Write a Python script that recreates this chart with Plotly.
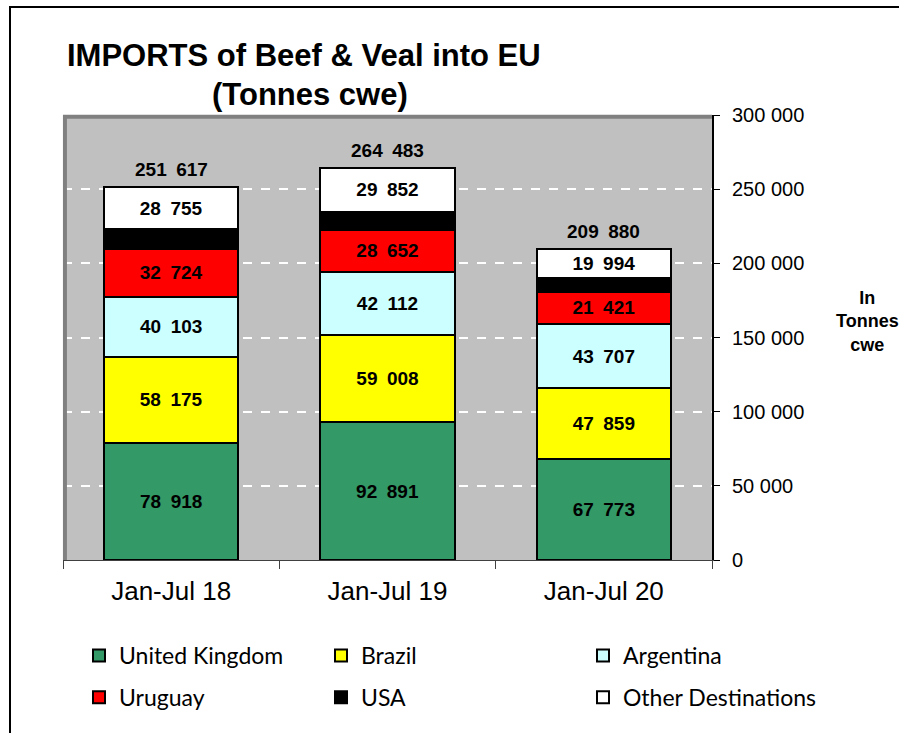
import plotly.graph_objects as go

categories = ["Jan-Jul 18", "Jan-Jul 19", "Jan-Jul 20"]
united_kingdom = [78918, 92891, 67773]
brazil = [58175, 59008, 47859]
argentina = [40103, 42112, 43707]
uruguay = [32724, 28652, 21421]
usa = [12942, 11968, 9126]
other = [28755, 29852, 19994]
totals = [251617, 264483, 209880]

series = [
    ("United Kingdom", united_kingdom, "#339966", True, "legend"),
    ("Brazil", brazil, "#FFFF00", True, "legend2"),
    ("Argentina", argentina, "#CCFFFF", True, "legend3"),
    ("Uruguay", uruguay, "#FF0000", True, "legend"),
    ("USA", usa, "#000000", False, "legend2"),
    ("Other Destinations", other, "#FFFFFF", True, "legend3"),
]


def fmt(v):
    return f"{v:,}".replace(",", "\u2002")


BOLD = dict(family="Liberation Sans, Arial", size=19, color="black", weight="bold")

fig = go.Figure()
for name, vals, color, lab, lg in series:
    fig.add_trace(go.Bar(
        x=categories, y=vals, name=name,
        marker=dict(color=color, line=dict(color="black", width=2)),
        text=[fmt(v) for v in vals] if lab else None,
        textposition="inside" if lab else "none",
        insidetextanchor="middle",
        textangle=0,
        constraintext="none",
        textfont=BOLD,
        width=0.62,
        legend=lg,
        legendgroup=name,
        hoverinfo="x+y+name",
    ))

W, H = 899, 733
L, R, T, B = 63, 899 - 712, 115, 733 - 560
pw, ph = W - L - R, H - T - B


def px(x):
    return (x - L) / pw


def py(y):
    return (H - B - y) / ph


legend_common = dict(
    orientation="v", traceorder="grouped", tracegroupgap=9,
    font=dict(family="Lato, Liberation Sans", size=23, color="black"),
    bgcolor="rgba(0,0,0,0)", itemwidth=30, itemclick=False,
    xanchor="left", yanchor="top",
)

total_ann = [
    dict(x=c, y=t, xref="x", yref="y", text=f"<b>{fmt(t)}</b>", showarrow=False,
         yanchor="bottom", yshift=5, font=BOLD)
    for c, t in zip(categories, totals)
]

fig.update_layout(
    width=W, height=H,
    margin=dict(l=L, r=R, t=T, b=B),
    paper_bgcolor="white",
    plot_bgcolor="#C0C0C0",
    barmode="stack",
    separators=". ",
    showlegend=True,
    legend=dict(x=px(79), y=py(634), **legend_common),
    legend2=dict(x=px(321), y=py(634), **legend_common),
    legend3=dict(x=px(583), y=py(634), **legend_common),
    xaxis=dict(
        type="category", tickson="boundaries", ticks="outside", ticklen=8,
        tickcolor="#404040", showline=True, linecolor="#404040", linewidth=1,
        tickfont=dict(family="Liberation Sans, Arial", size=26, color="black"),
        ticklabelstandoff=8,
        showgrid=False, range=[-0.5, 2.5],
    ),
    yaxis=dict(
        side="right", range=[0, 300000], dtick=50000, tickformat=",d",
        ticks="outside", ticklen=6, tickcolor="black",
        ticklabelstandoff=8,
        showline=True, linecolor="black", linewidth=2, mirror=False,
        showgrid=True, gridcolor="white", griddash="dash", gridwidth=2,
        zeroline=False,
        tickfont=dict(family="Liberation Sans, Arial", size=20, color="black"),
    ),
    annotations=total_ann + [
        dict(text="<b>IMPORTS of Beef &amp; Veal into EU</b>", x=px(304), y=py(56),
             xref="paper", yref="paper", showarrow=False, xanchor="center", yanchor="middle",
             font=dict(family="Liberation Sans, Arial", size=31, color="black")),
        dict(text="<b>(Tonnes cwe)</b>", x=px(310), y=py(94),
             xref="paper", yref="paper", showarrow=False, xanchor="center", yanchor="middle",
             font=dict(family="Liberation Sans, Arial", size=31, color="black")),
        dict(text="<b>In<br>Tonnes<br>cwe</b>", x=px(867), y=py(321),
             xref="paper", yref="paper", showarrow=False, xanchor="center", yanchor="middle",
             font=dict(family="Liberation Sans, Arial", size=18, color="black")),
    ],
    shapes=[
        dict(type="line", xref="paper", yref="paper", x0=0.003, x1=0.003, y0=0, y1=1,
             line=dict(color="#808080", width=4)),
        dict(type="line", xref="paper", yref="paper", x0=0, x1=1, y0=0.996, y1=0.996,
             line=dict(color="#808080", width=4)),
        dict(type="path", xref="paper", yref="paper",
             path=f"M {px(10)},{py(745)} L {px(10)},{py(7)} L {px(905)},{py(7)}",
             line=dict(color="black", width=2)),
    ],
)

fig.write_html(
    "out.html",
    config={"displayModeBar": False},
    post_script="document.body.style.margin='0';document.body.style.overflow='hidden';",
)
